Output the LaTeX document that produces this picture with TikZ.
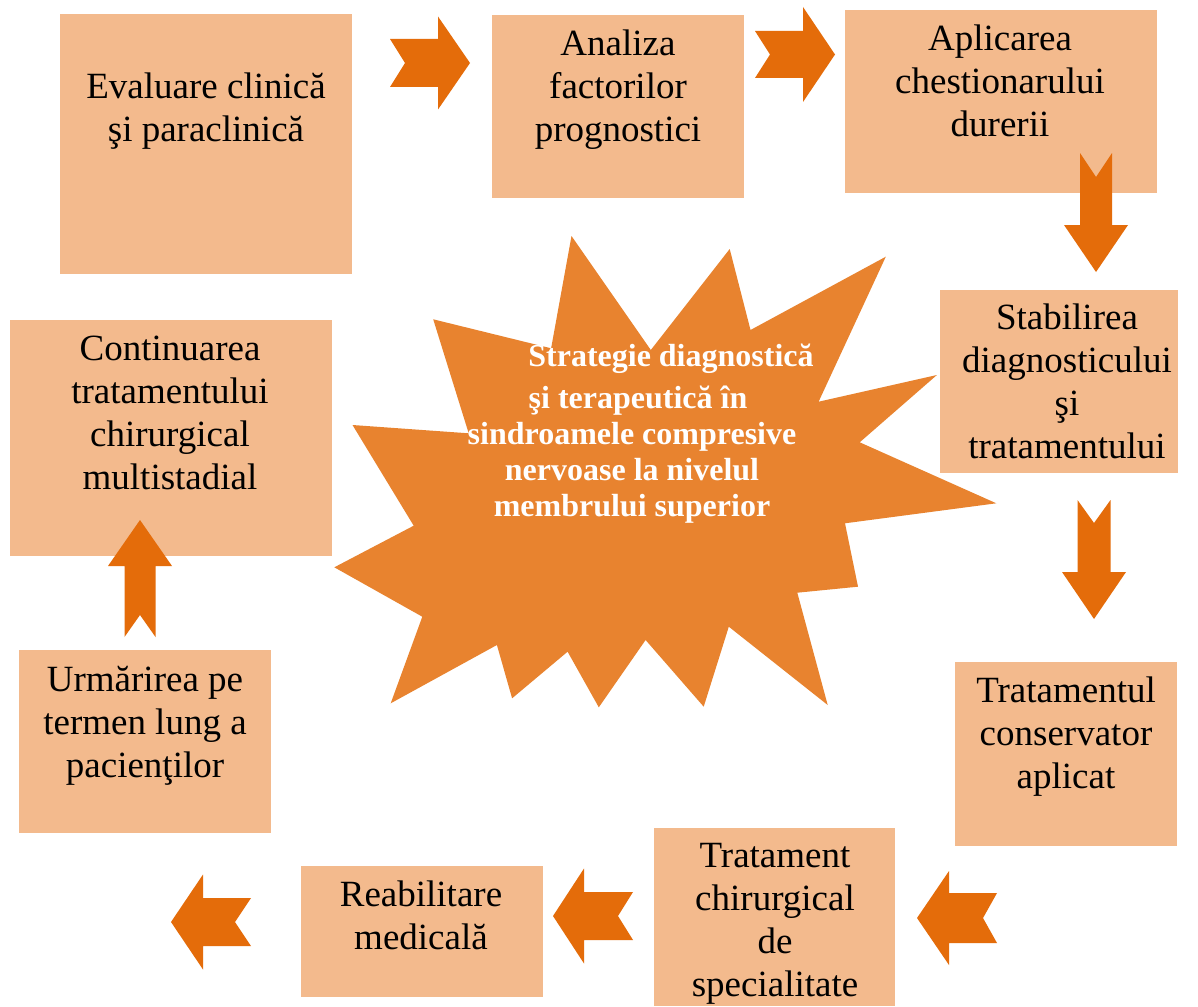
\documentclass[tikz,border=0pt]{standalone}
\usepackage{fontspec}
\setmainfont{Liberation Serif}
\definecolor{boxc}{HTML}{F3BA8D}
\definecolor{arrc}{HTML}{E46C0A}
\definecolor{starc}{HTML}{E8832F}
% #1 tail coordinate, #2 angle, #3 length, #4 head length, #5 head half width, #6 shaft half width, #7 notch depth
\newcommand{\blockarr}[7]{%
  \fill[arrc, shift={(#1)}, rotate=#2] (0,#6) -- ({#3-#4},#6) -- ({#3-#4},#5) -- (#3,0)
    -- ({#3-#4},-#5) -- ({#3-#4},-#6) -- (0,-#6) -- (#7,0) -- cycle;}
\begin{document}
\begin{tikzpicture}[x=1pt,y=-1pt,
  box/.style={rectangle, fill=boxc, draw=none, inner sep=0pt},
  lbl/.style={align=center, font=\fontsize{37}{43}\selectfont, inner sep=0pt, text=black,
    execute at begin node=\strut, execute at end node=\strut},
  startxt/.style={align=center, font=\fontsize{32}{36}\selectfont\bfseries, text=white, inner sep=0pt,
    execute at begin node=\strut, execute at end node=\strut}]
\useasboundingbox (0,0) rectangle (1198,1006);
\fill[white] (0,0) rectangle (1198,1006);

% boxes
\node[box, minimum width=292pt, minimum height=260pt] (eval) at (206,144) {};
\node[box, minimum width=252pt, minimum height=183pt] (anal) at (618,106.5) {};
\node[box, minimum width=312pt, minimum height=183pt] (apl) at (1001,101.5) {};
\node[box, minimum width=238pt, minimum height=183pt] (stab) at (1059,381.5) {};
\node[box, minimum width=322pt, minimum height=236pt] (cont) at (171,438) {};
\node[box, minimum width=222pt, minimum height=184pt] (cons) at (1066,754) {};
\node[box, minimum width=252pt, minimum height=183pt] (urm) at (145,741.5) {};
\node[box, minimum width=241pt, minimum height=178pt] (chir) at (774.5,917) {};
\node[box, minimum width=242pt, minimum height=131pt] (reab) at (422,931.5) {};

% box texts
\node[lbl] (evalt) at (206,114) {Evaluare clinică\\şi paraclinică};
\node[lbl] (analt) at (618,92) {Analiza\\factorilor\\prognostici};
\node[lbl] (aplt) at (1000,87.5) {Aplicarea\\chestionarului\\durerii};
\node[lbl] (stabt) at (1067,388) {Stabilirea\\diagnosticului\\şi\\tratamentului};
\node[lbl] (contt) at (170,419) {Continuarea\\tratamentului\\chirurgical\\multistadial};
\node[lbl] (const) at (1066,739.5) {Tratamentul\\conservator\\aplicat};
\node[lbl] (urmt) at (145,728.5) {Urmărirea pe\\termen lung a\\pacienţilor};
\node[lbl] (chirt) at (775,926) {Tratament\\chirurgical\\de\\specialitate};
\node[lbl] (reabt) at (421,922) {Reabilitare\\medicală};

% block arrows (tail coordinates)
\coordinate (a1) at (390,63);
\coordinate (a2) at (755,54.5);
\coordinate (a3) at (1096,153);
\coordinate (a4) at (1094,500);
\coordinate (a5) at (997,918);
\coordinate (a6) at (633,916);
\coordinate (a7) at (251,922);
\coordinate (a8) at (140,637);
\blockarr{a1}{0}{80}{32}{46.5}{24}{15}
\blockarr{a2}{0}{80}{32}{47.5}{23.5}{15}
\blockarr{a3}{-90}{119}{47}{32}{16}{24}
\blockarr{a4}{-90}{119}{47}{32}{16.5}{23}
\blockarr{a5}{180}{80}{32}{47}{25}{14}
\blockarr{a6}{180}{80}{31}{47.5}{24}{15}
\blockarr{a7}{180}{80}{32}{47.5}{24}{16}
\blockarr{a8}{90}{117}{46}{32}{15.5}{22}

% central star
\fill[starc] (571.5,236) -- (650.8,350) -- (729.7,249) -- (750.5,330) -- (885.8,256.7)
  -- (818.6,401.7) -- (936.9,375) -- (859.7,442.3) -- (996.3,503.3) -- (845,523.3)
  -- (858,586.7) -- (797.3,592.7) -- (827.7,705) -- (728.8,626.7) -- (703.7,706.7)
  -- (645.6,640) -- (598.8,707.3) -- (567.6,651.7) -- (512.1,698.3) -- (496.9,645)
  -- (390.7,703.3) -- (422.3,616.7) -- (334.3,567.3) -- (413.7,525.7) -- (352.5,425)
  -- (468.7,433.3) -- (433.2,319.3) -- (551.1,348.3) -- cycle;
\node[startxt] (centre) at (632,436) {\hspace*{78pt}Strategie diagnostică\\[6pt]
  \hspace*{12pt}şi terapeutică în\\sindroamele compresive\\
  nervoase la nivelul\hspace*{14pt}\\membrului superior};
\end{tikzpicture}
\end{document}
